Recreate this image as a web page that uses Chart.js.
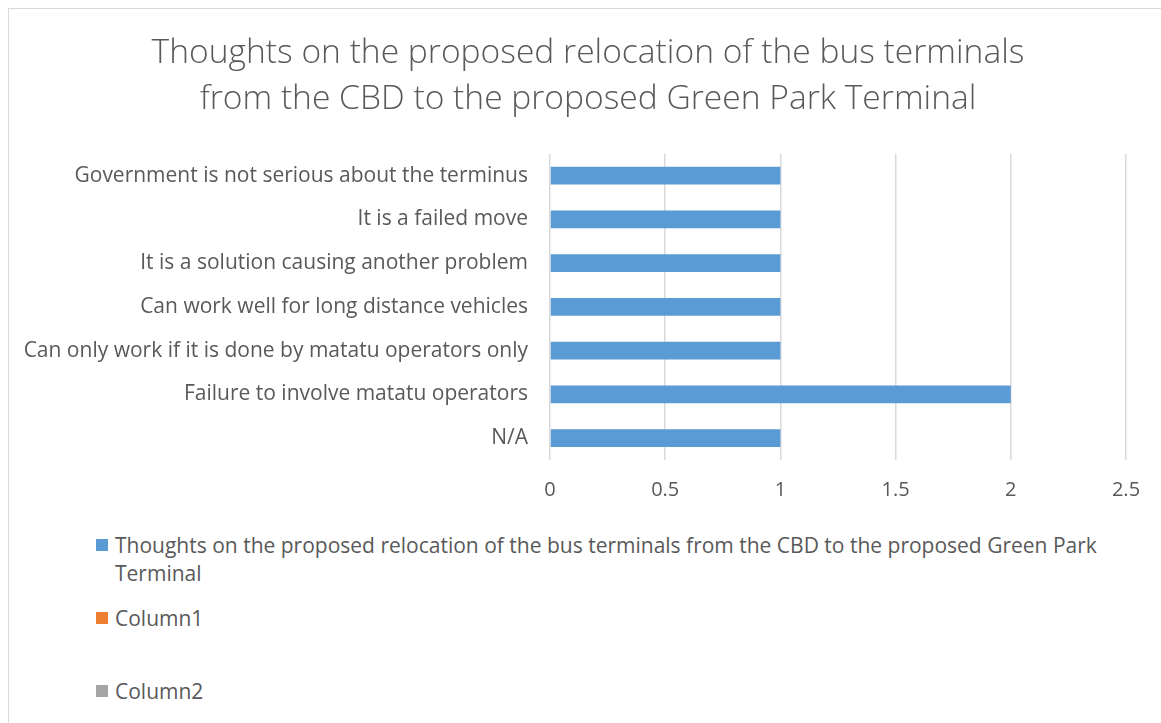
<!DOCTYPE html>
<html>
<head>
<meta charset="utf-8">
<script src="https://cdn.jsdelivr.net/npm/chart.js@4.4.1/dist/chart.umd.min.js"></script>
<style>
  html, body { margin: 0; padding: 0; background: #fff; overflow: hidden; }
  #frame {
    position: absolute; left: 8px; top: 8px; width: 1200px; height: 760px;
    border: 1px solid #d9d9d9; box-sizing: border-box;
  }
  #wrap { position: absolute; left: 0; top: 0; width: 1176px; height: 520px; }
  #legend {
    position: absolute; left: 96px; top: 531px; width: 1010px;
    font-family: "Open Sans", sans-serif; font-size: 21px; color: #595959;
  }
  .item { position: absolute; left: 0; display: flex; align-items: flex-start; }
  .box { width: 12px; height: 12px; margin-top: 8px; margin-right: 7px; flex: none; }
  .txt { line-height: 28px; }
</style>
</head>
<body>
<div id="frame"></div>
<div id="wrap"><canvas id="chart"></canvas></div>
<div id="legend"></div>
<script>
const categories = [
  "Government is not serious about the terminus",
  "It is a failed move",
  "It is a solution causing another problem",
  "Can work well for long distance vehicles",
  "Can only work if it is done by matatu operators only",
  "Failure to involve matatu operators",
  "N/A"
];
const thoughts = [1, 1, 1, 1, 1, 2, 1];
const column1 = [null, null, null, null, null, null, null];
const column2 = [null, null, null, null, null, null, null];
const xTicks = [0, 0.5, 1, 1.5, 2, 2.5];

const seriesNames = [
  "Thoughts on the proposed relocation of the bus terminals from the CBD to the proposed Green Park Terminal",
  "Column1",
  "Column2"
];
const seriesColors = ["#5b9bd5", "#ed7d31", "#a5a5a5"];
const legendTops = [0, 73, 146];

const textColor = "#595959";
const font = "'Open Sans', sans-serif";

const chart = new Chart(document.getElementById("chart"), {
  type: "bar",
  data: {
    labels: categories,
    datasets: [thoughts, column1, column2].map((d, i) => ({
      label: seriesNames[i],
      data: d,
      backgroundColor: seriesColors[i],
      grouped: false,
      categoryPercentage: 1,
      barPercentage: 0.41
    }))
  },
  options: {
    indexAxis: "y",
    responsive: true,
    maintainAspectRatio: false,
    animation: false,
    layout: { padding: { top: 30, right: 0, left: 0, bottom: 0 } },
    plugins: {
      legend: { display: false },
      tooltip: { enabled: false },
      title: {
        display: true,
        text: [
          "Thoughts on the proposed relocation of the bus terminals",
          "from the CBD to the proposed Green Park Terminal"
        ],
        color: textColor,
        font: { family: font, size: 33.6, weight: 300, lineHeight: 1.38 },
        padding: { top: 0, bottom: 31 }
      }
    },
    scales: {
      x: {
        min: 0,
        max: 2.5,
        afterBuildTicks: s => { s.ticks = xTicks.map(v => ({ value: v })); },
        afterFit: s => { s.height = 60; },
        grid: { color: "#d9d9d9", lineWidth: 1.5, drawTicks: false },
        border: { display: false },
        ticks: {
          color: textColor, font: { family: font, size: 20 }, padding: 18, maxRotation: 0,
          callback: v => String(v)
        }
      },
      y: {
        afterFit: s => { s.width = 550; },
        grid: { display: false, drawTicks: false },
        border: { display: false },
        ticks: { color: textColor, font: { family: font, size: 21 }, padding: 22 }
      },
      // empty right-hand margin so the plot ends at 2.5 with room to spare
      yRight: {
        type: "category",
        position: "right",
        afterFit: s => { s.width = 50; },
        grid: { display: false, drawTicks: false },
        border: { display: false },
        ticks: { display: false }
      }
    }
  }
});

// legend below the plot, one entry per series
const legend = document.getElementById("legend");
chart.data.datasets.forEach((ds, i) => {
  const item = document.createElement("div");
  item.className = "item";
  item.style.top = legendTops[i] + "px";
  const box = document.createElement("span");
  box.className = "box";
  box.style.background = ds.backgroundColor;
  const txt = document.createElement("span");
  txt.className = "txt";
  txt.textContent = ds.label;
  item.appendChild(box);
  item.appendChild(txt);
  legend.appendChild(item);
});
</script>
</body>
</html>
